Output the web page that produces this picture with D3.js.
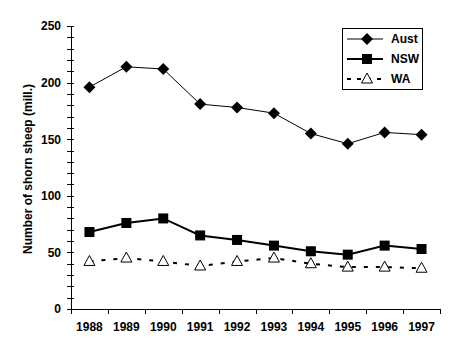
<!DOCTYPE html>
<meta charset="utf-8">
<style>
body { margin: 0; background: #fff; }
text { font: bold 12px "Liberation Sans", Arial, sans-serif; fill: #000; }
</style>
<body>
<script src="https://cdn.jsdelivr.net/npm/d3@7"></script>
<script>
const years = ["1988", "1989", "1990", "1991", "1992", "1993", "1994", "1995", "1996", "1997"];
const aust = [196, 214, 212, 181, 178, 173, 155, 146, 156, 154];
const nsw = [68, 76, 80, 65, 61, 56, 51, 48, 56, 53];
const wa = [42, 45, 42, 38, 42, 45, 40, 37, 37, 36];
const yTicks = [0, 50, 100, 150, 200, 250];

const width = 461, height = 354;
const svg = d3.select("body").append("svg")
    .attr("width", width)
    .attr("height", height);

const x = d3.scaleBand().domain(years).range([71, 440]);
const y = d3.scaleLinear().domain([0, 250]).range([309, 26]);
const cx = d => x(d) + x.bandwidth() / 2;

// y axis
const yg = svg.append("g");
yg.append("line")
    .attr("x1", 71.5).attr("x2", 71.5)
    .attr("y1", y(0)).attr("y2", y(250))
    .attr("stroke", "#000");
yg.selectAll("line.tick")
    .data(d3.range(0, 251, 10))
    .join("line")
    .attr("class", "tick")
    .attr("x1", 67).attr("x2", 74)
    .attr("y1", d => Math.round(y(d)) + 0.5)
    .attr("y2", d => Math.round(y(d)) + 0.5)
    .attr("stroke", "#000");
yg.selectAll("text")
    .data(yTicks)
    .join("text")
    .attr("x", 61)
    .attr("y", d => y(d))
    .attr("dy", "0.36em")
    .attr("text-anchor", "end")
    .text(d => d);

// x axis
const xg = svg.append("g");
xg.append("line")
    .attr("x1", 71).attr("x2", 440)
    .attr("y1", 309.5).attr("y2", 309.5)
    .attr("stroke", "#000");
xg.selectAll("line.tick")
    .data(years.concat(["end"]))
    .join("line")
    .attr("class", "tick")
    .attr("x1", d => Math.round(d === "end" ? x.range()[1] : x(d)) + 0.5)
    .attr("x2", d => Math.round(d === "end" ? x.range()[1] : x(d)) + 0.5)
    .attr("y1", 309).attr("y2", 314)
    .attr("stroke", "#000");
xg.selectAll("text")
    .data(years)
    .join("text")
    .attr("x", cx)
    .attr("y", 331)
    .attr("text-anchor", "middle")
    .text(d => d);

svg.append("text")
    .attr("transform", "translate(32,169) rotate(-90)")
    .attr("text-anchor", "middle")
    .text("Number of shorn sheep (mill.)");

const line = d3.line().x((d, i) => cx(years[i])).y(d => y(d));

const series = [
  { name: "Aust", values: aust, width: 1, dash: null, marker: "diamond" },
  { name: "NSW", values: nsw, width: 2, dash: null, marker: "square" },
  { name: "WA", values: wa, width: 2, dash: "4,8", marker: "triangle" }
];

function drawMarker(g, type, px, py) {
  if (type === "diamond") {
    g.append("path")
      .attr("d", `M${px},${py - 6}L${px + 6},${py}L${px},${py + 6}L${px - 6},${py}Z`)
      .attr("fill", "#000");
  } else if (type === "square") {
    g.append("rect")
      .attr("x", px - 5).attr("y", py - 5)
      .attr("width", 10).attr("height", 10)
      .attr("fill", "#000");
  } else {
    g.append("path")
      .attr("d", `M${px},${py - 6}L${px + 5.5},${py + 4}L${px - 5.5},${py + 4}Z`)
      .attr("fill", "#fff")
      .attr("stroke", "#000")
      .attr("stroke-width", 1);
  }
}

series.forEach(s => {
  const g = svg.append("g");
  g.append("path")
    .attr("d", line(s.values))
    .attr("fill", "none")
    .attr("stroke", "#000")
    .attr("stroke-width", s.width)
    .attr("stroke-dasharray", s.dash);
  s.values.forEach((v, i) => drawMarker(g, s.marker, cx(years[i]), y(v)));
});

// legend
const lg = svg.append("g");
lg.append("rect")
  .attr("x", 342.5).attr("y", 28.5)
  .attr("width", 80).attr("height", 61)
  .attr("fill", "#fff")
  .attr("stroke", "#000");
series.forEach((s, i) => {
  const ly = 39 + i * 20;
  lg.append("line")
    .attr("x1", 347).attr("x2", 383)
    .attr("y1", ly).attr("y2", ly)
    .attr("stroke", "#000")
    .attr("stroke-width", s.width)
    .attr("stroke-dasharray", s.dash ? "4,6" : null);
  drawMarker(lg, s.marker, 367, ly);
  lg.append("text")
    .attr("x", 391)
    .attr("y", ly)
    .attr("dy", "0.36em")
    .text(s.name);
});
</script>
</body>
